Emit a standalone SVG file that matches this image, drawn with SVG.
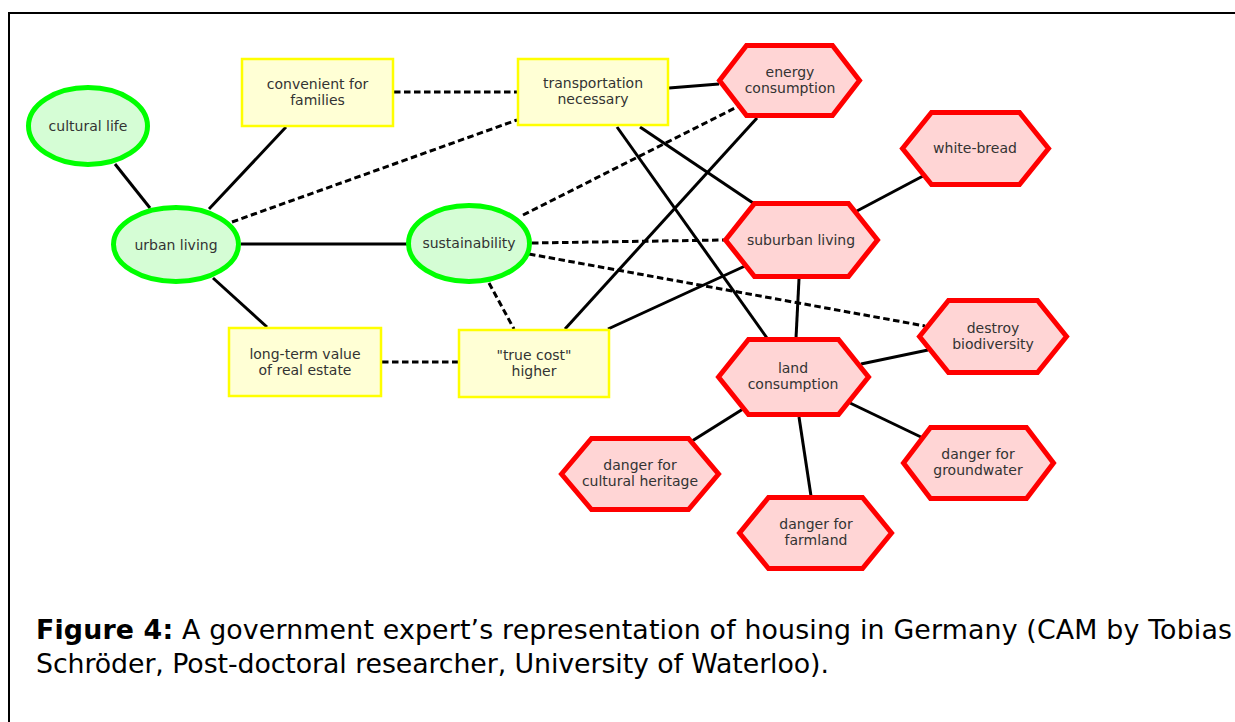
<svg xmlns="http://www.w3.org/2000/svg" width="1235" height="722" viewBox="0 0 1235 722">
<style>
.bg{fill:#ffffff}
.frame{fill:none;stroke:#000;stroke-width:2}
.c{stroke:#000;stroke-width:3;fill:none}
.d{stroke:#000;stroke-width:3;fill:none;stroke-dasharray:6.5 3.5}
.el{fill:#d5fdd5;stroke:#00ff00;stroke-width:5}
.rc{fill:#ffffd5;stroke:#ffff00;stroke-width:2.5}
.hx{fill:#ffd5d5;stroke:#ff0000;stroke-width:5;stroke-linejoin:miter}
.t{font-family:"DejaVu Sans",Verdana,sans-serif;font-size:14px;fill:#333;text-anchor:middle}
.cap{font-family:"DejaVu Sans",Verdana,sans-serif;font-size:26.8px;fill:#000}
</style>
<rect class="bg" x="0" y="0" width="1235" height="722"/>
<path class="frame" d="M9,722 V13 H1235"/>
<g id="connectors">
<line class="c" x1="115" y1="164" x2="150" y2="208"/>
<line class="c" x1="209" y1="209" x2="286" y2="127"/>
<line class="c" x1="241" y1="244" x2="407" y2="244"/>
<line class="c" x1="213" y1="278" x2="267" y2="327"/>
<line class="c" x1="669" y1="88" x2="719" y2="84"/>
<line class="c" x1="640" y1="127" x2="753" y2="203"/>
<line class="c" x1="617" y1="127" x2="767" y2="338"/>
<line class="c" x1="757" y1="118" x2="565" y2="329"/>
<line class="c" x1="745" y1="266" x2="608" y2="329"/>
<line class="c" x1="855" y1="212" x2="923" y2="176"/>
<line class="c" x1="799" y1="279" x2="796" y2="338"/>
<line class="c" x1="861" y1="364" x2="928" y2="350"/>
<line class="c" x1="743" y1="409" x2="692" y2="441"/>
<line class="c" x1="799" y1="417" x2="811" y2="496"/>
<line class="c" x1="850" y1="403" x2="923" y2="438"/>
<line class="d" x1="394" y1="92" x2="517" y2="92"/>
<line class="d" x1="232" y1="222" x2="517" y2="120"/>
<line class="d" x1="523" y1="215" x2="741" y2="105"/>
<line class="d" x1="532" y1="243" x2="724" y2="240"/>
<line class="d" x1="529" y1="254" x2="925" y2="326"/>
<line class="d" x1="489" y1="283" x2="514" y2="329"/>
<line class="d" x1="382" y1="362" x2="458" y2="362"/>
</g>
<g id="cultural-life"><ellipse class="el" cx="88" cy="126" rx="59.5" ry="38.5"/><text class="t" x="88" y="131">cultural life</text></g>
<g id="urban-living"><ellipse class="el" cx="176" cy="244.5" rx="62.5" ry="37"/><text class="t" x="176" y="250">urban living</text></g>
<g id="sustainability"><ellipse class="el" cx="469" cy="243.5" rx="60.5" ry="38"/><text class="t" x="469" y="248">sustainability</text></g>
<g id="convenient-for-families"><rect class="rc" x="242" y="59" width="151" height="67"/><text class="t" x="317.5" y="89">convenient for</text><text class="t" x="317.5" y="105">families</text></g>
<g id="transportation-necessary"><rect class="rc" x="518" y="59" width="150" height="66"/><text class="t" x="593" y="88">transportation</text><text class="t" x="593" y="104">necessary</text></g>
<g id="long-term-value"><rect class="rc" x="229" y="328" width="152" height="68"/><text class="t" x="305" y="359">long-term value</text><text class="t" x="305" y="375">of real estate</text></g>
<g id="true-cost-higher"><rect class="rc" x="459" y="330" width="150" height="67"/><text class="t" x="534" y="360">"true cost"</text><text class="t" x="534" y="376">higher</text></g>
<g id="energy-consumption"><polygon class="hx" points="719.5,80.5 746.5,45.5 832.5,45.5 859.5,80.5 832.5,115.5 746.5,115.5"/><text class="t" x="790" y="77">energy</text><text class="t" x="790" y="93">consumption</text></g>
<g id="white-bread"><polygon class="hx" points="902.5,148.5 931.5,112.5 1019.5,112.5 1048.5,148.5 1019.5,184.5 931.5,184.5"/><text class="t" x="975" y="153">white-bread</text></g>
<g id="suburban-living"><polygon class="hx" points="725.5,240 754.5,203.5 848.5,203.5 877.5,240 848.5,276.5 754.5,276.5"/><text class="t" x="801" y="245">suburban living</text></g>
<g id="destroy-biodiversity"><polygon class="hx" points="919.5,336.5 948.5,300.5 1037.5,300.5 1066.5,336.5 1037.5,372.5 948.5,372.5"/><text class="t" x="993" y="333">destroy</text><text class="t" x="993" y="349">biodiversity</text></g>
<g id="land-consumption"><polygon class="hx" points="718.5,377 748.5,339.5 838.5,339.5 868.5,377 838.5,414.5 748.5,414.5"/><text class="t" x="793" y="373">land</text><text class="t" x="793" y="389">consumption</text></g>
<g id="danger-cultural-heritage"><polygon class="hx" points="561.5,474 591.5,438.5 688.5,438.5 718.5,474 688.5,509.5 591.5,509.5"/><text class="t" x="640" y="470">danger for</text><text class="t" x="640" y="486">cultural heritage</text></g>
<g id="danger-farmland"><polygon class="hx" points="739.5,533 768.5,497.5 862.5,497.5 891.5,533 862.5,568.5 768.5,568.5"/><text class="t" x="816" y="529">danger for</text><text class="t" x="816" y="545">farmland</text></g>
<g id="danger-groundwater"><polygon class="hx" points="903.5,463 930.5,427.5 1026.5,427.5 1053.5,463 1026.5,498.5 930.5,498.5"/><text class="t" x="978" y="459">danger for</text><text class="t" x="978" y="475">groundwater</text></g>
<text class="cap" x="36" y="639" textLength="1196" lengthAdjust="spacing"><tspan font-weight="bold">Figure 4:</tspan> A government expert’s representation of housing in Germany (CAM by Tobias</text>
<text class="cap" x="36" y="673" textLength="793" lengthAdjust="spacing">Schröder, Post-doctoral researcher, University of Waterloo).</text>
</svg>
